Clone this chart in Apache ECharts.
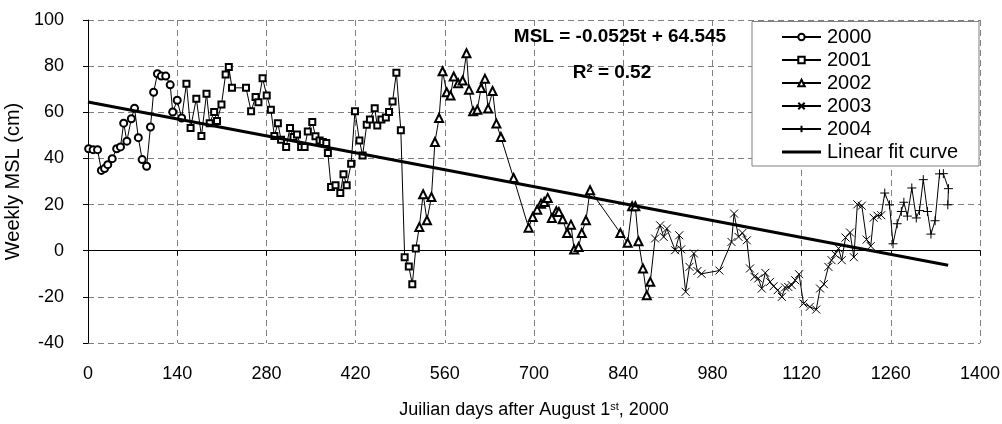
<!DOCTYPE html>
<html><head><meta charset="utf-8">
<script src="https://cdn.jsdelivr.net/npm/echarts@6/dist/echarts.min.js"></script>
<style>html,body{margin:0;padding:0;background:#fff}#c{width:1002px;height:424px}</style>
</head><body><div id="c"></div>
<script>
// ---- data ----
const days2000 = [1,8,15,21,26,31,38,45,51,56,61,68,73,79,85,92,98,103,109,115,122,129,133,140,147];
const msl2000  = [44.2,43.8,43.8,34.8,35.6,37.3,39.9,44.2,45,55.3,47.5,57.2,61.8,49,39.5,36.6,53.6,68.7,76.7,75.7,75.7,71.9,60.1,65.2,57.5];

const days2001 = [154.5,161,170,178,186,191,198,202.5,209.5,216,221,226,248,256,263,267.5,274,280.5,287,292.5,298,303,311,317,322.5,328,334.5,340,345,352,357,363.5,368.5,374,376.5,381.5,388.5,396,401,406,413,419,426,431,437.5,442.5,450,454,460.5,467.5,472.5,478,484,491,497,503.5,509,514.5];
const msl2001  = [72.4,53.2,65.9,49.7,68,55.3,60.1,56.2,63.4,76.4,79.6,70.6,70.6,60.4,66.6,64.4,74.8,67.3,61.1,49.7,55.3,48.1,44.9,53.2,49.3,50.4,44.9,44.9,51.7,55.8,49.6,47.8,47.1,46.7,42.3,27.6,28.4,25,33.1,28.4,37.7,60.4,47.8,41.3,54.6,56.9,61.7,54.3,56.9,57.7,60.1,64.7,77.1,52.2,-2.8,-6.8,-14.5,1];

const days2002 = [520,526,532,539,544.5,551,556.5,563,569,574,581,588,594,598,604.5,611,617,623,628,635,641,648,668,691.5,698,705,711,716,721.5,728,735,739,745,752,758,763,770,775,781.5,788,835.5,847,854,859,864,871,877,882.5];
const msl2002  = [10.3,24.5,13.2,23.3,47.1,57.5,77.8,68.7,67.3,75.5,72.6,73.8,85.6,69.8,60.4,61.1,70.5,74.5,61.6,69.2,55.1,49.3,31.5,10,14.6,17.8,20.4,21.1,22.9,14.2,17.1,16.8,13.6,7.7,11.3,0.5,1.6,7.7,13.2,26.2,7.7,3.4,19.3,19.3,4.1,-7.7,-19.3,-13.5];

const days2003 = [890,898,903.5,908.5,921.5,928,931,938,944,951,956.5,963,991,1010,1014,1021,1027,1034,1039,1046,1052,1057.5,1063,1070.5,1076,1082.5,1089,1094,1099,1104.5,1110,1116,1123,1133,1143,1149,1155,1162,1167,1172.5,1178,1183,1189,1196,1202,1207.5,1214.5,1222,1228.5,1233,1239,1245];
const msl2003  = [5.3,11,6,9.6,0.2,6.7,0.6,-17.8,-7,-1.2,-8.8,-10,-8.6,3.8,16.1,6,7.7,4.5,-7.7,-11.3,-12,-16.4,-9.6,-13.5,-15.4,-17.1,-20,-15.9,-15.7,-14.9,-12.8,-10.2,-22.9,-24.3,-25.5,-16.4,-14.5,-7,-4.1,-1.5,1,-4.1,5.7,7.9,-2.8,20.1,19.5,4.8,2,14.3,15.2,15.4];

const days2004 = [1250.5,1258,1263.5,1270,1276.5,1280.5,1286,1293,1300,1305,1311,1317.5,1323,1329.5,1336.5,1342.5,1350.5,1349.5];
const msl2004  = [25,19.9,3,11.7,17,21,15,27.2,14.2,17.4,30.8,17,7.2,13,33.3,33.4,26.9,19.9];

const fitDays = [0,1350];
const fitMSL  = [64.5,-6.3];

const xTicks = {min:0, max:1400, step:140};
const yTicks = {min:-40, max:100, step:20};

const seriesNames = ['2000','2001','2002','2003','2004'];
const fitName = 'Linear fit curve';
// ---- chart ----
const FONT = '"Liberation Sans", Arial, sans-serif';
const CROSS = 'path://M0,0L10,10M10,0L0,10';
const PLUS  = 'path://M5,0L5,10M0,5L10,5';
const sets = [
  [days2000,msl2000,'emptyCircle',7],
  [days2001,msl2001,'emptyRect',6],
  [days2002,msl2002,'emptyTriangle',8],
  [days2003,msl2003,CROSS,8],
  [days2004,msl2004,PLUS,9]
];
const series = sets.map((s,i)=>{
  const data = [];
  if (i>0){ const p = sets[i-1]; data.push({value:[p[0][p[0].length-1], p[1][p[1].length-1]], symbol:'none'}); }
  s[0].forEach((d,j)=>data.push([d, s[1][j]]));
  return {
    name: seriesNames[i], type:'line', data, symbol:s[2], symbolSize:s[3],
    lineStyle:{color:'#000', width:1}, itemStyle:{color:'#000', borderColor:'#000', borderWidth:1},
    emphasis:{disabled:true}, z:2
  };
});
series.push({
  name:fitName, type:'line', data: fitDays.map((d,j)=>[d,fitMSL[j]]), symbol:'none',
  lineStyle:{color:'#000', width:3}, itemStyle:{color:'#000'}, emphasis:{disabled:true}, z:3
});

const chart = echarts.init(document.getElementById('c'), null, {renderer:'canvas'});
chart.setOption({
  animation:false,
  backgroundColor:'#fff',
  textStyle:{fontFamily:FONT, color:'#000'},
  grid:{left:88, right:22, top:20, bottom:81, containLabel:false, outerBoundsMode:'none'},
  xAxis:[{
    type:'value', min:xTicks.min, max:xTicks.max, interval:xTicks.step, position:'bottom',
    axisLine:{show:false, onZero:false}, axisTick:{show:false},
    axisLabel:{fontSize:18, color:'#000', fontFamily:FONT, margin:22, formatter:v=>String(v)},
    splitLine:{show:true, lineStyle:{color:'#808080', type:[6,4], width:1}},
    name:'Juilian days after August 1{sup|st}, 2000', nameLocation:'middle', nameGap:58,
    nameTextStyle:{fontSize:18, color:'#000', fontFamily:FONT,
      rich:{sup:{fontSize:11, verticalAlign:'top', fontFamily:FONT, color:'#000'}}}
  },{
    type:'value', min:xTicks.min, max:xTicks.max, interval:xTicks.step, position:'bottom',
    axisLine:{show:true, onZero:true, lineStyle:{color:'#000', width:1}},
    axisTick:{show:true, length:5, lineStyle:{color:'#000'}},
    axisLabel:{show:false}, splitLine:{show:false}
  }],
  yAxis:{
    type:'value', min:yTicks.min, max:yTicks.max, interval:yTicks.step,
    axisLine:{show:true, lineStyle:{color:'#000', width:1}},
    axisTick:{show:true, length:5, lineStyle:{color:'#000'}},
    axisLabel:{fontSize:18, color:'#000', fontFamily:FONT, margin:24},
    splitLine:{show:true, lineStyle:{color:'#808080', type:[6,4], width:1}},
    name:'Weekly MSL (cm)', nameLocation:'middle', nameGap:58, nameRotate:90,
    nameTextStyle:{fontSize:20, color:'#000', fontFamily:FONT}
  },
  legend:{
    orient:'vertical', left:776, top:22, padding:5, itemWidth:39, itemHeight:8, itemGap:3,
    data:[...seriesNames, {name:fitName, icon:'path://M0,0H39V3H0Z'}],
    textStyle:{fontSize:20, color:'#000', fontFamily:FONT, padding:[0,0,0,1]},
    selectedMode:false, z:5
  },
  graphic:[
    {type:'rect', z:4, shape:{x:752, y:21.5, width:227, height:144.5},
     style:{fill:'#fff', stroke:'#808080', lineWidth:1}},
    {type:'text', z:4, x:620, y:37, style:{text:'MSL = -0.0525t + 64.545', fontSize:19, fontWeight:'bold',
      fontFamily:FONT, fill:'#000', align:'center', verticalAlign:'middle'}},
    {type:'text', z:4, x:612, y:73, style:{text:'R{sup|2} = 0.52', fontSize:19, fontWeight:'bold',
      fontFamily:FONT, fill:'#000', align:'center', verticalAlign:'middle',
      rich:{sup:{fontSize:11, fontWeight:'bold', verticalAlign:'top', fontFamily:FONT, fill:'#000'}}}}
  ],
  series
});
</script></body></html>
